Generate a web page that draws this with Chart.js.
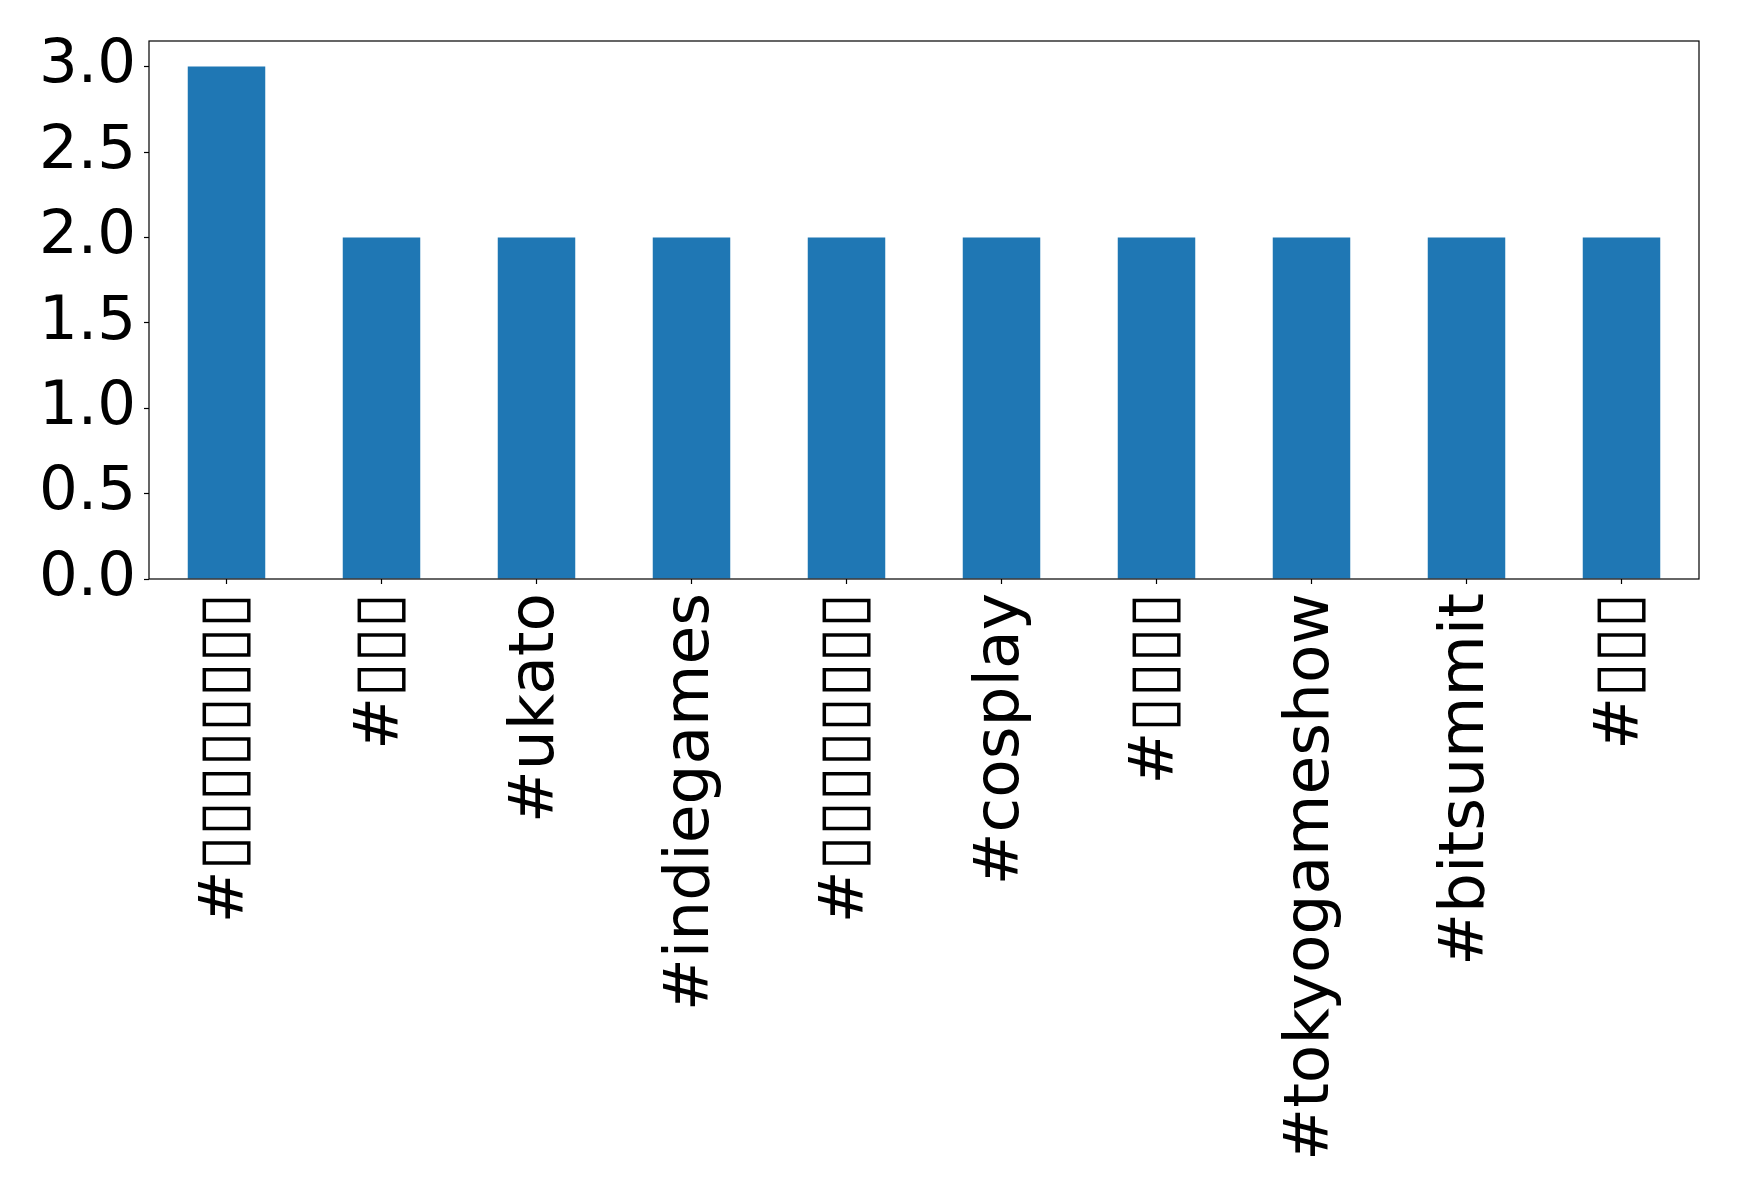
<!DOCTYPE html>
<html>
<head>
<meta charset="utf-8">
<script src="https://cdn.jsdelivr.net/npm/chart.js@4"></script>
<style>
html,body{margin:0;padding:0;background:#fff;}
#wrap{width:1739px;height:1191px;}
</style>
</head>
<body>
<div id="wrap"><canvas id="c" width="1739" height="1191"></canvas></div>
<script>
const categories = ["#▯▯▯▯▯▯▯▯", "#▯▯▯", "#ukato", "#indiegames", "#▯▯▯▯▯▯▯▯", "#cosplay", "#▯▯▯▯", "#tokyogameshow", "#bitsummit", "#▯▯▯"];
const counts = [3, 2, 2, 2, 2, 2, 2, 2, 2, 2];
const yTicks = [0, 0.5, 1.0, 1.5, 2.0, 2.5, 3.0];

const frame = {
  id: 'frame',
  afterDraw(chart) {
    const a = chart.chartArea, ctx = chart.ctx;
    ctx.save();
    ctx.strokeStyle = '#000';
    ctx.lineWidth = 1.2;
    ctx.strokeRect(a.left, a.top, a.right - a.left, a.bottom - a.top);
    ctx.restore();
  }
};

new Chart(document.getElementById('c'), {
  type: 'bar',
  data: {
    labels: categories,
    datasets: [{ data: counts, backgroundColor: '#1f77b4', borderWidth: 0,
      categoryPercentage: 1.0, barPercentage: 0.5 }]
  },
  options: {
    responsive: false,
    animation: false,
    devicePixelRatio: 1,
    layout: { padding: { left: 0, top: 41, right: 40, bottom: 0 } },
    plugins: { legend: { display: false }, tooltip: { enabled: false } },
    scales: {
      x: {
        offset: true,
        grid: { display: true, drawOnChartArea: false, offset: false, tickLength: 5, tickColor: '#000', tickWidth: 1.2 },
        border: { display: false },
        ticks: { color: '#000', font: { family: 'DejaVu Sans', size: 63 }, minRotation: 90, maxRotation: 90, padding: 9, autoSkip: false },
        afterFit(s) { s.height = 1191 - 579; s.paddingLeft = 0; s.paddingRight = 0; }
      },
      y: {
        min: 0, max: 3.15,
        afterBuildTicks(s) { s.ticks = yTicks.map(v => ({ value: v })); },
        grid: { display: true, drawOnChartArea: false, tickLength: 5, tickColor: '#000', tickWidth: 1.2 },
        border: { display: false },
        ticks: { color: '#000', font: { family: 'DejaVu Sans', size: 61 }, padding: 8,
          callback: v => Number(v).toFixed(1) },
        afterFit(s) { s.width = 149; s.paddingTop = 0; s.paddingBottom = 0; }
      }
    }
  },
  plugins: [frame]
});
</script>
</body>
</html>
